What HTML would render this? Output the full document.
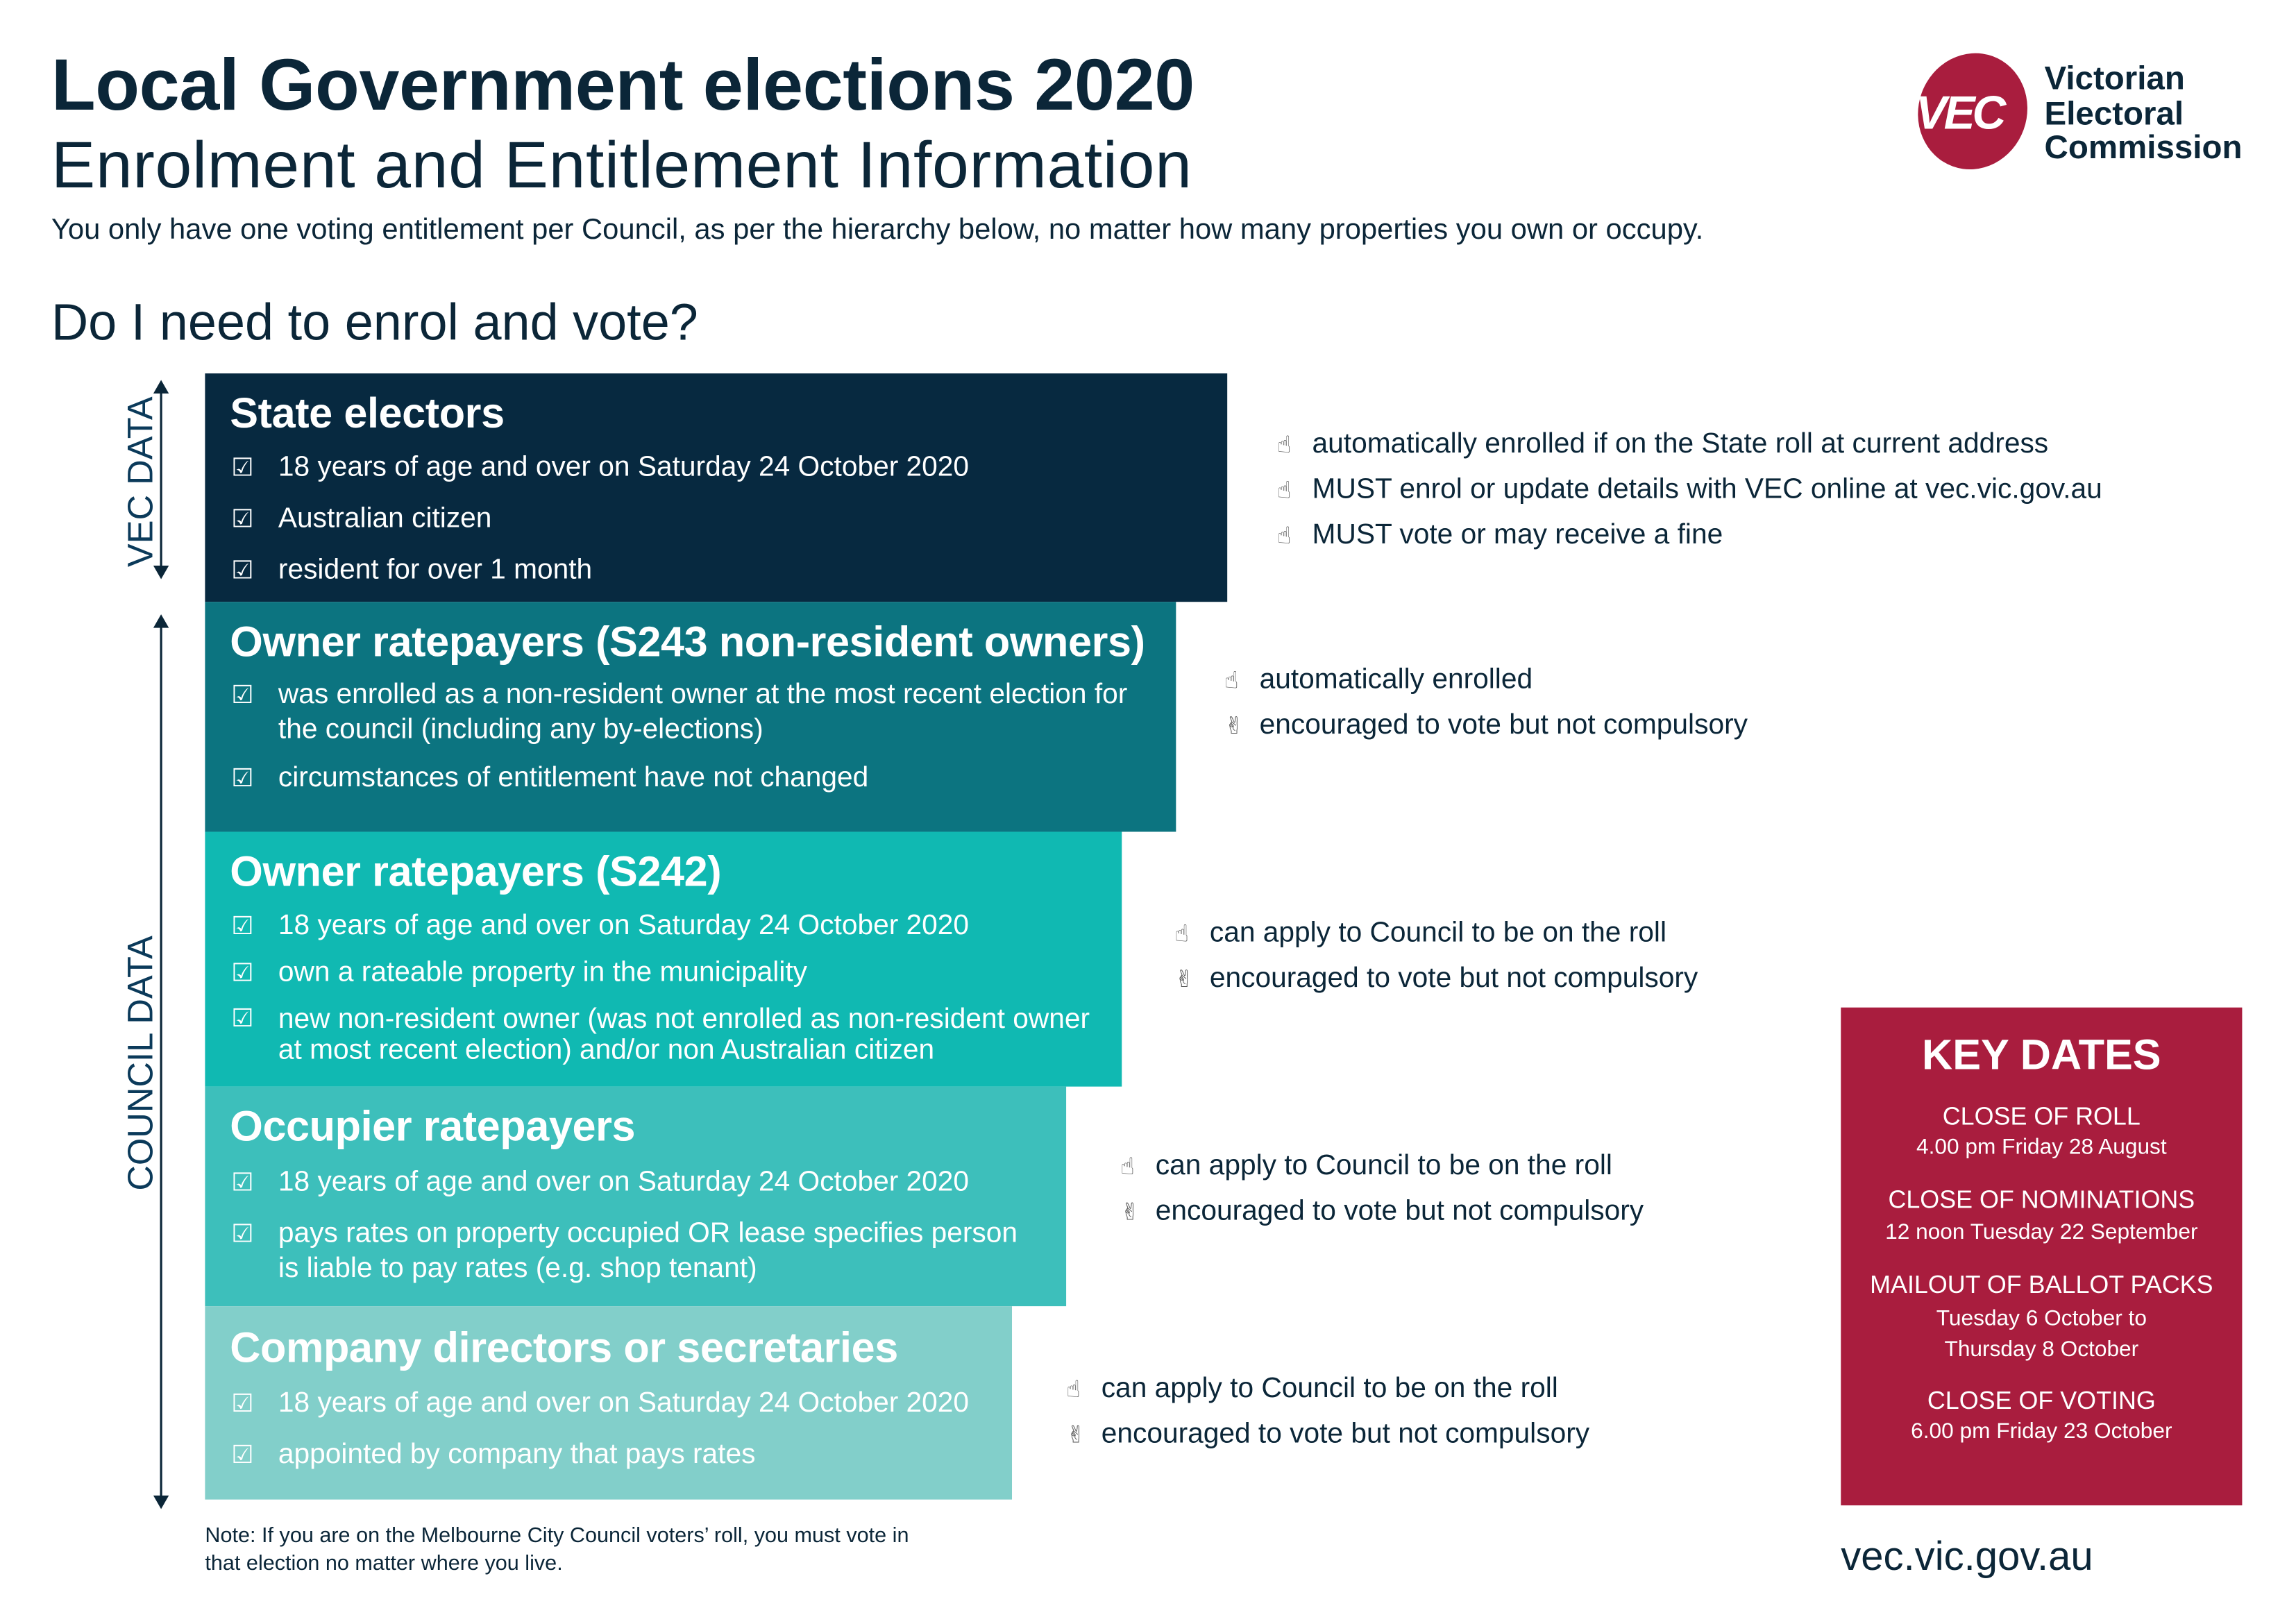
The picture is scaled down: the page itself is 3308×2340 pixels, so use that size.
<!DOCTYPE html>
<html><head><meta charset="utf-8"><style>
html,body{margin:0;padding:0;background:#fff;}
body{width:3308px;height:2339px;overflow:hidden;position:relative;}
#w{position:absolute;left:0;top:0;width:1568px;height:1109px;transform:scale(2.11);transform-origin:0 0;font-family:"Liberation Sans",sans-serif;color:#0b2638;}
.a{position:absolute;white-space:nowrap;}
.t{margin-top:2px;}
.box{position:absolute;left:140px;}
.h{position:absolute;left:17px;font-weight:bold;font-size:29px;color:#fff;letter-spacing:-0.2px;margin-top:2px;}
.i{position:absolute;left:20px;font-size:19.3px;color:#fff;line-height:24px;white-space:nowrap;margin-top:2px;}
.i span{position:absolute;left:-2px;font-size:17px;font-family:"DejaVu Sans",sans-serif;}
.i div{position:absolute;left:30px;top:0;}
.r{position:absolute;font-size:19.3px;white-space:nowrap;color:#0b2638;margin-top:2px;}
.r b{font-weight:normal;font-size:16px;position:absolute;left:-24px;top:1px;color:#555;font-family:"DejaVu Sans",sans-serif;}
.k{position:absolute;left:1257px;width:274px;text-align:center;color:#fff;white-space:nowrap;margin-top:2px;}
</style></head><body><div id="w">
<div class="a t" style="left:35px;top:28px;font-size:49.5px;font-weight:bold;letter-spacing:-0.2px;">Local Government elections 2020</div>
<div class="a t" style="left:35px;top:85px;font-size:45px;letter-spacing:0.3px;">Enrolment and Entitlement Information</div>
<div class="a t" style="left:35px;top:144px;font-size:19.8px;">You only have one voting entitlement per Council, as per the hierarchy below, no matter how many properties you own or occupy.</div>
<div class="a t" style="left:35px;top:199px;font-size:35px;">Do I need to enrol and vote?</div>

<svg class="a" style="left:1302px;top:36px" width="90" height="80" viewBox="0 0 90 80"><ellipse cx="45" cy="40" rx="37" ry="40" fill="#a91d3e" transform="rotate(20 45 40)"/><text x="6" y="52" font-family="Liberation Sans" font-weight="bold" font-style="italic" font-size="32" fill="#fff" letter-spacing="-2">VEC</text></svg>
<div class="a t" style="left:1396px;top:40px;font-size:22.5px;font-weight:bold;line-height:23.5px;">Victorian<br>Electoral<br>Commission</div>

<svg class="a" style="left:80px;top:255px" width="50" height="780"><g stroke="#0b2638" stroke-width="1.5" fill="#0b2638"><line x1="30" y1="10" x2="30" y2="135"/><polygon points="26,13 34,13 30,6"/><polygon points="26,132 34,132 30,139"/><line x1="30" y1="170" x2="30" y2="770"/><polygon points="26,173 34,173 30,166"/><polygon points="26,767 34,767 30,774"/></g></svg>
<div class="a" style="left:97px;top:329px;font-size:24px;transform:translate(-50%,-50%) rotate(-90deg);color:#0b3a5a;">VEC DATA</div>
<div class="a" style="left:97px;top:726px;font-size:24px;transform:translate(-50%,-50%) rotate(-90deg);color:#0b3a5a;">COUNCIL DATA</div>

<div class="box" style="top:255px;width:698px;height:156px;background:#072940;">
<div class="h" style="top:10px">State electors</div>
<div class="i" style="top:51px"><span>☑</span><div>18 years of age and over on Saturday 24 October 2020</div></div>
<div class="i" style="top:86px"><span>☑</span><div>Australian citizen</div></div>
<div class="i" style="top:121px"><span>☑</span><div>resident for over 1 month</div></div>
</div>
<div class="box" style="top:411px;width:663px;height:157px;background:#0c7480;">
<div class="h" style="top:10px">Owner ratepayers (S243 non-resident owners)</div>
<div class="i" style="top:50px"><span>☑</span><div>was enrolled as a non-resident owner at the most recent election for<br>the council (including any by-elections)</div></div>
<div class="i" style="top:107px"><span>☑</span><div>circumstances of entitlement have not changed</div></div>
</div>
<div class="box" style="top:568px;width:626px;height:174px;background:#10b9b2;">
<div class="h" style="top:10px">Owner ratepayers (S242)</div>
<div class="i" style="top:51px"><span>☑</span><div>18 years of age and over on Saturday 24 October 2020</div></div>
<div class="i" style="top:83px"><span>☑</span><div>own a rateable property in the municipality</div></div>
<div class="i" style="top:116px;line-height:21px"><span>☑</span><div>new non-resident owner (was not enrolled as non-resident owner<br>at most recent election) and/or non Australian citizen</div></div>
</div>
<div class="box" style="top:742px;width:588px;height:150px;background:#3dbfbb;">
<div class="h" style="top:10px">Occupier ratepayers</div>
<div class="i" style="top:52px"><span>☑</span><div>18 years of age and over on Saturday 24 October 2020</div></div>
<div class="i" style="top:87px"><span>☑</span><div>pays rates on property occupied OR lease specifies person<br>is liable to pay rates (e.g. shop tenant)</div></div>
</div>
<div class="box" style="top:892px;width:551px;height:132px;background:#82cfca;">
<div class="h" style="top:11px">Company directors or secretaries</div>
<div class="i" style="top:53px"><span>☑</span><div>18 years of age and over on Saturday 24 October 2020</div></div>
<div class="i" style="top:88px"><span>☑</span><div>appointed by company that pays rates</div></div>
</div>

<div class="r" style="left:896px;top:291px"><b>☝&#xFE0E;</b>automatically enrolled if on the State roll at current address</div>
<div class="r" style="left:896px;top:322px"><b>☝&#xFE0E;</b>MUST enrol or update details with VEC online at vec.vic.gov.au</div>
<div class="r" style="left:896px;top:353px"><b>☝&#xFE0E;</b>MUST vote or may receive a fine</div>
<div class="r" style="left:860px;top:452px"><b>☝&#xFE0E;</b>automatically enrolled</div>
<div class="r" style="left:860px;top:483px"><b>✌&#xFE0E;</b>encouraged to vote but not compulsory</div>
<div class="r" style="left:826px;top:625px"><b>☝&#xFE0E;</b>can apply to Council to be on the roll</div>
<div class="r" style="left:826px;top:656px"><b>✌&#xFE0E;</b>encouraged to vote but not compulsory</div>
<div class="r" style="left:789px;top:784px"><b>☝&#xFE0E;</b>can apply to Council to be on the roll</div>
<div class="r" style="left:789px;top:815px"><b>✌&#xFE0E;</b>encouraged to vote but not compulsory</div>
<div class="r" style="left:752px;top:936px"><b>☝&#xFE0E;</b>can apply to Council to be on the roll</div>
<div class="r" style="left:752px;top:967px"><b>✌&#xFE0E;</b>encouraged to vote but not compulsory</div>

<div class="a" style="left:1257px;top:688px;width:274px;height:340px;background:#a91d3e;"></div>
<div class="k" style="top:703px;font-size:29px;font-weight:bold;">KEY DATES</div>
<div class="k" style="top:751px;font-size:17px;">CLOSE OF ROLL</div>
<div class="k" style="top:773px;font-size:15px;">4.00 pm Friday 28 August</div>
<div class="k" style="top:808px;font-size:17px;">CLOSE OF NOMINATIONS</div>
<div class="k" style="top:831px;font-size:15px;">12 noon Tuesday 22 September</div>
<div class="k" style="top:866px;font-size:17px;">MAILOUT OF BALLOT PACKS</div>
<div class="k" style="top:888px;font-size:15px;line-height:21px;">Tuesday 6 October to<br>Thursday 8 October</div>
<div class="k" style="top:945px;font-size:17px;">CLOSE OF VOTING</div>
<div class="k" style="top:967px;font-size:15px;">6.00 pm Friday 23 October</div>

<div class="a t" style="left:140px;top:1038px;font-size:14.5px;line-height:19px;">Note: If you are on the Melbourne City Council voters’ roll, you must vote in<br>that election no matter where you live.</div>
<div class="a t" style="left:1257px;top:1045px;font-size:27.5px;">vec.vic.gov.au</div>
</div></body></html>
